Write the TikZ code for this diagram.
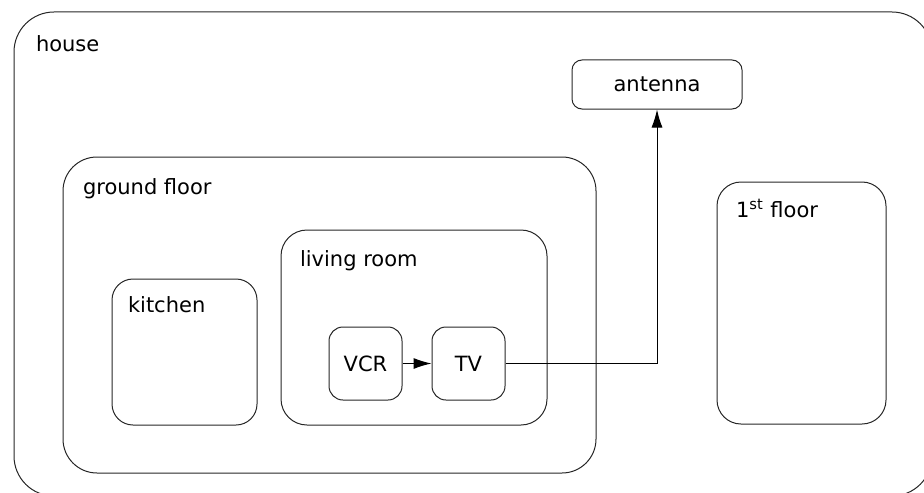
\documentclass[tikz,border=0pt]{standalone}
\usepackage{fontspec}
\setmainfont{DejaVu Sans}
\usetikzlibrary{fit,arrows.meta}

\tikzset{
  area/.style={draw=black!85, inner sep=0pt},
  title/.style={anchor=base west, inner sep=0pt, font=\fontsize{10.5}{12}\selectfont},
  device/.style={area, font=\fontsize{10.5}{12}\selectfont},
}

\begin{document}
\begin{tikzpicture}[x=0.5pt, y=-0.5pt, line width=0.5pt, >={Latex[length=9pt,width=5.5pt]}]
\useasboundingbox (0,0) rectangle (924,492);

\foreach \n/\a/\b/\c/\d/\r in {house/14/12/932/496/20pt,
    ground/63/157/596/473/17pt, kitchen/112/279/257/425/10.5pt,
    living/281/230/547/425/13pt, first/717/182/886/424/12pt}
  \node [area, rounded corners=\r, fit={(\a,\b) (\c,\d)}] (\n) {};

\foreach \n/\dx/\dy/\l in {house/22/40/house, ground/20/38/ground floor,
    kitchen/16/34/kitchen, living/19/37/living room,
    first/19/36/{1\textsuperscript{st} floor}}
  \node [title] (\n-title) at ([shift={(\dx,\dy)}]\n.north west) {\l};

\foreach \n/\a/\b/\c/\d/\r/\l in {antenna/572/60/742/109/5pt/antenna,
    vcr/329/327/402/400/7pt/VCR, tv/432/327/505/400/7pt/TV}
  \node [device, rounded corners=\r, fit={(\a,\b) (\c,\d)},
    label={[name=\n-text, font=\fontsize{10.5}{12}\selectfont]center:\l}] (\n) {};

\draw [->] (vcr) -- (tv);
\draw [->] (tv) -| (antenna);

\end{tikzpicture}
\end{document}
